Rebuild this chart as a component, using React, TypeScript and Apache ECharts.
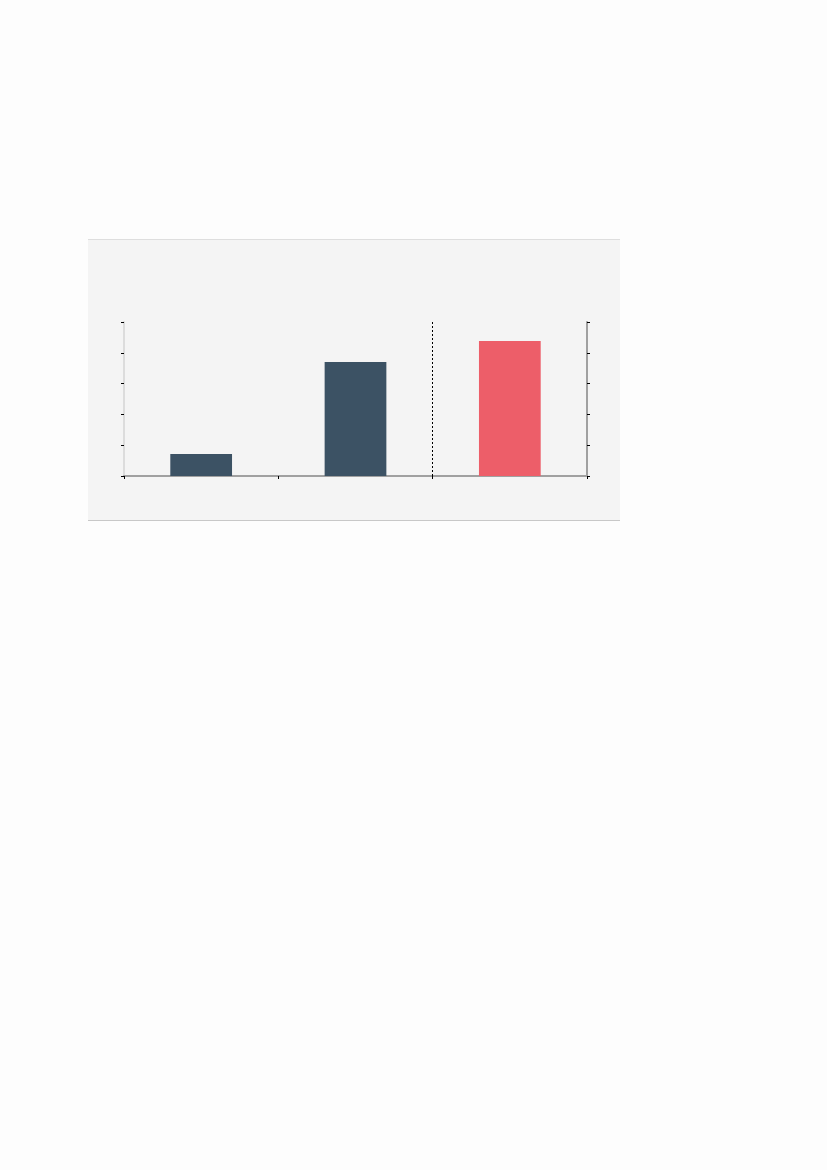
import { useEffect, useRef } from 'react'
import * as echarts from 'echarts'

const categories = ['A', 'B', 'C']
const values = [14.3, 74, 87.7]
const barColors = ['#3c5264', '#3c5264', '#ed5e69']
const dividerPosition = 2
const yMin = 0
const yMax = 100
const yStep = 20

export default function App() {
  const ref = useRef<HTMLDivElement | null>(null)

  useEffect(() => {
    if (!ref.current) return
    const chart = echarts.init(ref.current, undefined, { renderer: 'svg' })

    const yAxisBase = (lineColor: string, position: 'left' | 'right') => ({
      type: 'value',
      position,
      min: yMin,
      max: yMax,
      interval: yStep,
      axisLine: { show: true, lineStyle: { color: lineColor, width: 2 } },
      axisTick: { show: true, length: 3, lineStyle: { color: '#000', width: 1 } },
      axisLabel: { show: false },
      splitLine: { show: false }
    })

    chart.setOption({
      animation: false,
      backgroundColor: '#fdfdfd',
      graphic: [
        {
          type: 'rect',
          z: -10,
          shape: { x: 88, y: 239, width: 532, height: 281 },
          style: { fill: '#f4f4f4' }
        },
        {
          type: 'line',
          z: -9,
          shape: { x1: 88, y1: 239.5, x2: 620, y2: 239.5 },
          style: { stroke: '#dedede', lineWidth: 1 }
        },
        {
          type: 'line',
          z: -9,
          shape: { x1: 88, y1: 520.5, x2: 620, y2: 520.5 },
          style: { stroke: '#c8c8c8', lineWidth: 1 }
        }
      ],
      grid: { left: 124, right: 240, top: 322, bottom: 694, containLabel: false },
      xAxis: [
        {
          type: 'category',
          data: categories,
          boundaryGap: true,
          axisLine: { show: true, lineStyle: { color: '#a0a0a0', width: 2 } },
          axisTick: { show: true, length: 3, lineStyle: { color: '#000', width: 1 } },
          axisLabel: { show: false },
          splitLine: { show: false }
        },
        {
          type: 'value',
          min: 0,
          max: categories.length,
          position: 'bottom',
          axisLine: { show: false },
          axisTick: { show: false },
          axisLabel: { show: false },
          splitLine: { show: false }
        }
      ],
      yAxis: [yAxisBase('#dcdcdc', 'left'), yAxisBase('#a0a0a0', 'right')],
      series: [
        {
          type: 'bar',
          barWidth: '40%',
          data: values.map((v, i) => ({ value: v, itemStyle: { color: barColors[i] } }))
        },
        {
          type: 'line',
          xAxisIndex: 1,
          data: [],
          silent: true,
          markLine: {
            silent: true,
            symbol: 'none',
            label: { show: false },
            lineStyle: { color: '#000', width: 1, type: [2, 2] },
            data: [{ xAxis: dividerPosition }]
          }
        }
      ]
    })

    return () => {
      chart.dispose()
    }
  }, [])

  return (
    <div
      ref={ref}
      style={{ position: 'absolute', left: 0, top: 0, width: 827, height: 1170 }}
    />
  )
}
